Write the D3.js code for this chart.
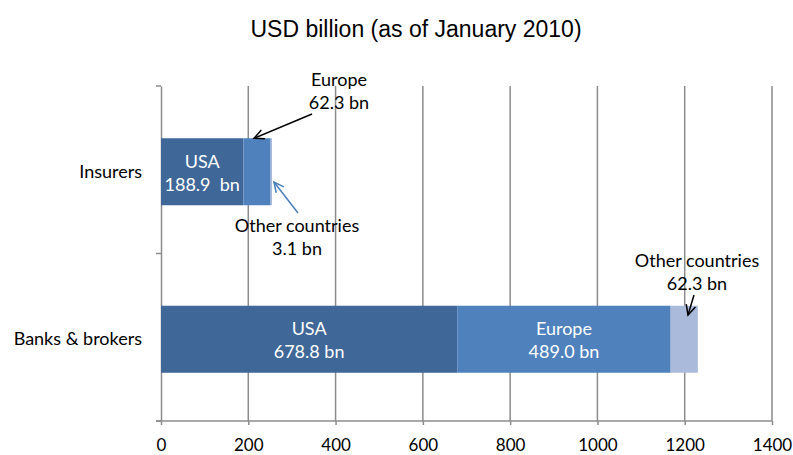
<!DOCTYPE html>
<html><head><meta charset="utf-8">
<script src="https://cdn.jsdelivr.net/npm/d3@7"></script>
<style>body{margin:0;background:#fff}svg{display:block}text{white-space:pre}</style>
</head><body>
<script>
const categories = ["Insurers", "Banks & brokers"];
const regions = ["USA", "Europe", "Other countries"];
const usaValues = [188.9, 678.8];
const europeValues = [62.3, 489.0];
const otherValues = [3.1, 62.3];
const xTicks = [0, 200, 400, 600, 800, 1000, 1200, 1400];
const title = "USD billion (as of January 2010)";

const W = 793, H = 455;
const margin = {left: 161, right: 21, top: 86, bottom: 34};
const svg = d3.select("body").append("svg").attr("width", W).attr("height", H);

const x = d3.scaleLinear().domain([0, 1400]).range([margin.left, W - margin.right]);
const y = d3.scaleBand().domain(categories).range([margin.top, H - margin.bottom]).padding(0);
const barH = y.bandwidth() * 0.4;
const colors = {"USA": "#3F6797", "Europe": "#4F81BD", "Other countries": "#A9BADA"};
const lbl = "Lato, 'Open Sans', sans-serif";
const fs = 18;

svg.append("text").attr("x", 416).attr("y", 37).attr("text-anchor", "middle")
  .attr("font-family", "'Liberation Sans', Arial, sans-serif").attr("font-size", 23).attr("fill", "#000").text(title);

// gridlines
const yBottom = H - margin.bottom;
svg.append("g").selectAll("line").data(xTicks.slice(1)).join("line")
  .attr("x1", d => x(d)).attr("x2", d => x(d)).attr("y1", margin.top).attr("y2", yBottom)
  .attr("stroke", "#8c8c8c").attr("stroke-width", 1.5);

// x axis
const xAxis = d3.axisBottom(x).tickValues(xTicks).tickSize(4).tickSizeOuter(0).tickFormat(d3.format("d"));
const gx = svg.append("g").attr("transform", `translate(0,${yBottom})`).call(xAxis);
gx.select(".domain").attr("stroke", "#8c8c8c").attr("stroke-width", 1.5).attr("d", `M${x(0)-5},0H${x(1400)}`);
gx.selectAll(".tick line").attr("stroke", "#8c8c8c").attr("stroke-width", 1.5);
gx.selectAll(".tick text").attr("font-family", lbl).attr("font-size", 17).attr("fill", "#000").attr("dy", "1.35em");

// y axis
const yAxis = d3.axisLeft(y).tickSize(0).tickSizeOuter(0);
const gy = svg.append("g").attr("transform", `translate(${x(0)},0)`).call(yAxis);
gy.select(".domain").attr("stroke", "#8c8c8c").attr("stroke-width", 1.5);
gy.selectAll(".tick text").attr("font-family", lbl).attr("font-size", fs).attr("fill", "#000").attr("x", -19).attr("dy", "0.45em");
// boundary ticks
const bounds = [y.range()[0], y(categories[1]), y.range()[1]];
svg.append("g").selectAll("line").data(bounds).join("line")
  .attr("x1", x(0) - 5).attr("x2", x(0)).attr("y1", d => d).attr("y2", d => d)
  .attr("stroke", "#8c8c8c").attr("stroke-width", 1.5);

// stacked bars
const rows = categories.map((c, i) => ({cat: c, USA: usaValues[i], Europe: europeValues[i], "Other countries": otherValues[i]}));
const stack = d3.stack().keys(regions)(rows);
const g = svg.append("g");
stack.forEach(layer => {
  g.selectAll(null).data(layer).join("rect")
    .attr("x", d => x(d[0])).attr("width", d => x(d[1]) - x(d[0]))
    .attr("y", d => y(d.data.cat) + (y.bandwidth() - barH) / 2 + 2).attr("height", barH)
    .attr("fill", colors[layer.key]);
});

function label2(cx, cy, l1, l2, fill) {
  const t = svg.append("text").attr("text-anchor", "middle").attr("font-family", lbl).attr("font-size", fs).attr("fill", fill);
  t.append("tspan").attr("x", cx).attr("y", cy).text(l1);
  t.append("tspan").attr("x", cx).attr("y", cy + 23).text(l2);
}
const yc = c => y(c) + y.bandwidth() / 2 + 2;
// in-bar labels
label2((x(0) + x(usaValues[0])) / 2, yc(categories[0]) - 4, "USA", usaValues[0].toFixed(1) + "  bn", "#fff");
label2((x(0) + x(usaValues[1])) / 2, yc(categories[1]) - 4, "USA", usaValues[1].toFixed(1) + " bn", "#fff");
label2((x(usaValues[1]) + x(usaValues[1] + europeValues[1])) / 2, yc(categories[1]) - 4, "Europe", europeValues[1].toFixed(1) + " bn", "#fff");

// outside labels
label2(339, 86, "Europe", europeValues[0].toFixed(1) + " bn", "#000");
label2(297, 232, "Other countries", otherValues[0].toFixed(1) + " bn", "#000");
label2(697, 267, "Other countries", otherValues[1].toFixed(1) + " bn", "#000");

function arrow(x1, y1, x2, y2, color) {
  const a = Math.atan2(y2 - y1, x2 - x1), L = 11, s = 0.45;
  svg.append("line").attr("x1", x1).attr("y1", y1).attr("x2", x2).attr("y2", y2).attr("stroke", color).attr("stroke-width", 1.5);
  const p1 = [x2 - L * Math.cos(a - s), y2 - L * Math.sin(a - s)];
  const p2 = [x2 - L * Math.cos(a + s), y2 - L * Math.sin(a + s)];
  svg.append("path").attr("d", `M${p1}L${x2},${y2}L${p2}`).attr("fill", "none").attr("stroke", color).attr("stroke-width", 1.5);
}
// arrows pointing to segments
const insTop = y(categories[0]) + (y.bandwidth() - barH) / 2 + 2;
arrow(312, 114, x(usaValues[0] + europeValues[0] / 2) - 3, insTop, "#000");
arrow(298, 213, x(usaValues[0] + europeValues[0] + otherValues[0]) + 2, 182, "#4A7EBB");
arrow(694, 295, 688, 315, "#000");
</script>
</body></html>
